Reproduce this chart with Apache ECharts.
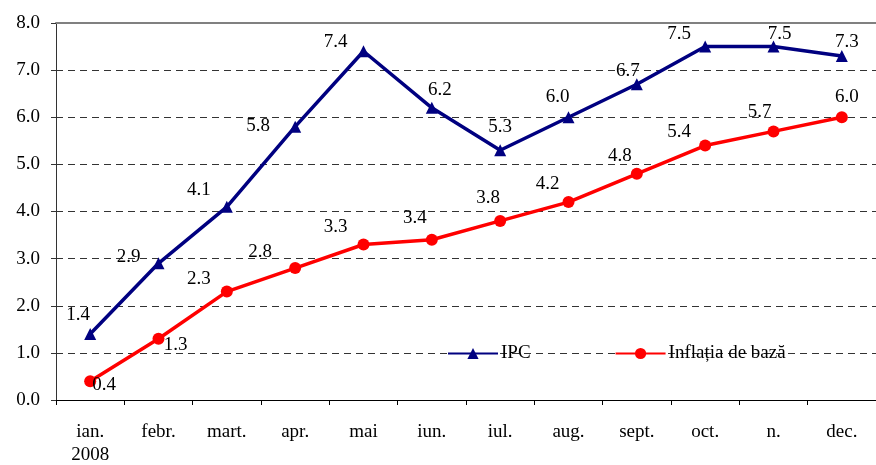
<!DOCTYPE html>
<html>
<head>
<meta charset="utf-8">
<script src="https://cdn.jsdelivr.net/npm/echarts@6/dist/echarts.min.js"></script>
<style>
  html, body { margin: 0; padding: 0; background: #fff; }
  #main { width: 876px; height: 465px; }
</style>
</head>
<body>
<div id="main"></div>
<script>
// date
const months = ['ian.\n2008', 'febr.', 'mart.', 'apr.', 'mai', 'iun.', 'iul.', 'aug.', 'sept.', 'oct.', 'n.', 'dec.'];
const ipc = [1.4, 2.9, 4.1, 5.8, 7.4, 6.2, 5.3, 6.0, 6.7, 7.5, 7.5, 7.3];
const inflBaza = [0.4, 1.3, 2.3, 2.8, 3.3, 3.4, 3.8, 4.2, 4.8, 5.4, 5.7, 6.0];

// pozitia etichetelor fata de punct (dx, dy)
const ipcOffsets = [[-12, -19], [-30, -6], [-28, -17], [-37, -1], [-28, -9], [8, -18],
  [0, -23], [-11, -20], [-9, -13], [-26, -13], [6, -13], [5, -14]];
const bazaOffsets = [[14, 4], [17, 6], [-28, -13], [-35, -16], [-28, -17], [-17, -22],
  [-12, -23], [-21, -18], [-17, -18], [-26, -14], [-14, -19], [5, -20]];

const font = 'Liberation Serif';
const fs = 19;

function withLabels(values, offsets) {
  return values.map((v, i) => ({
    value: v,
    label: { offset: offsets[i] },
  }));
}

const chart = echarts.init(document.getElementById('main'));

const labelStyle = {
  show: true,
  position: 'inside',
  color: '#000',
  fontFamily: font,
  fontSize: fs,
  formatter: (p) => p.value.toFixed(1),
};

const option = {
  animation: false,
  grid: { left: 56, right: 0, top: 23, bottom: 65, outerBoundsMode: 'none' },
  legend: {
    left: 442,
    top: 339,
    itemWidth: 50,
    itemHeight: 14,
    itemGap: 84,
    textStyle: { fontFamily: font, fontSize: fs, color: '#000', padding: [0, 0, 0, -2] },
    data: ['IPC', 'Inflația de bază'],
  },
  xAxis: [
    {
      type: 'category',
      data: months,
      boundaryGap: true,
      axisLine: { lineStyle: { color: '#000', width: 1 } },
      axisTick: { show: true, length: 5, lineStyle: { color: '#000' } },
      axisLabel: {
        color: '#000',
        fontFamily: font,
        fontSize: fs,
        margin: 21,
        lineHeight: 23,
        interval: 0,
      },
    },
    {
      type: 'category',
      position: 'top',
      data: months,
      axisLine: { lineStyle: { color: '#808080', width: 2 } },
      axisTick: { show: false },
      axisLabel: { show: false },
    },
  ],
  yAxis: {
    type: 'value',
    min: 0,
    max: 8,
    interval: 1,
    axisLine: { show: true, lineStyle: { color: '#333' } },
    axisTick: { show: true, length: 5, lineStyle: { color: '#333' } },
    axisLabel: {
      color: '#000',
      fontFamily: font,
      fontSize: fs,
      margin: 16,
      formatter: (v) => v.toFixed(1),
    },
    splitLine: {
      show: true,
      showMinLine: false,
      showMaxLine: false,
      lineStyle: { color: '#333', type: [7, 5], width: 1 },
    },
  },
  series: [
    {
      name: 'IPC',
      type: 'line',
      data: withLabels(ipc, ipcOffsets),
      symbol: 'triangle',
      symbolSize: 12,
      lineStyle: { color: '#000080', width: 3.5 },
      itemStyle: { color: '#000080' },
      label: labelStyle,
    },
    {
      name: 'Inflația de bază',
      type: 'line',
      data: withLabels(inflBaza, bazaOffsets),
      symbol: 'circle',
      symbolSize: 12,
      lineStyle: { color: '#ff0000', width: 3.5 },
      itemStyle: { color: '#ff0000' },
      label: labelStyle,
    },
  ],
};

chart.setOption(option);
</script>
</body>
</html>
